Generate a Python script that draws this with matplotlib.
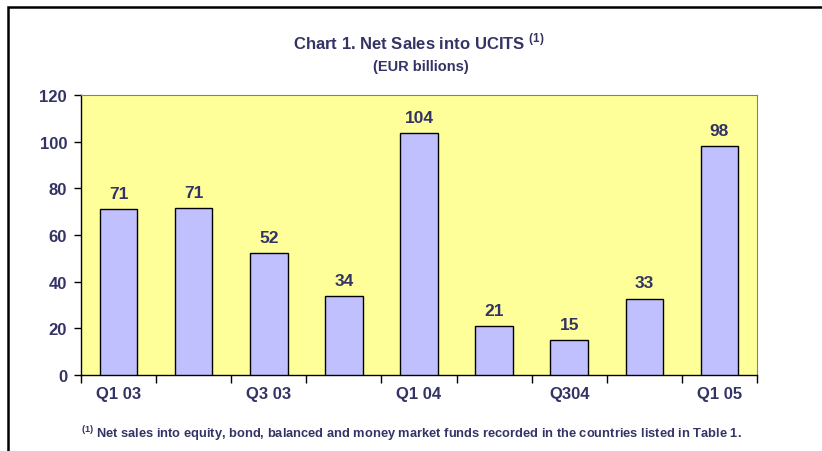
import matplotlib
matplotlib.use("Agg")
import matplotlib.pyplot as plt
from matplotlib.patches import Rectangle

quarters = ["Q1 03", "Q2 03", "Q3 03", "Q4 03", "Q1 04", "Q2 04", "Q304", "Q4 04", "Q1 05"]
net_sales = [71.2, 71.4, 52.3, 33.9, 103.7, 21.0, 15.0, 32.7, 98.0]
shown_labels = ["Q1 03", "", "Q3 03", "", "Q1 04", "", "Q304", "", "Q1 05"]
y_ticks = [0, 20, 40, 60, 80, 100, 120]

navy = "#333366"
plt.rcParams["font.family"] = ["Liberation Sans", "DejaVu Sans"]
plt.rcParams["font.weight"] = "bold"
plt.rcParams["mathtext.fontset"] = "custom"
plt.rcParams["mathtext.bf"] = "Liberation Sans:bold"
plt.rcParams["mathtext.rm"] = "Liberation Sans:bold"

fig = plt.figure(figsize=(8.22, 4.52), dpi=100)
ax = fig.add_axes([81 / 822, 1 - 376 / 452, 676 / 822, 280 / 452])
ax.set_facecolor("#FFFF99")

x = range(len(quarters))
ax.bar(x, net_sales, width=0.5, color="#C0C0FF", edgecolor="black", linewidth=1.0, zorder=3)
for i, v in enumerate(net_sales):
    ax.annotate(f"{round(v)}", (i, v), xytext=(0, 6), textcoords="offset points",
                ha="center", va="bottom", fontsize=12.5, fontweight="bold", color=navy)

ax.set_xlim(-0.5, len(quarters) - 0.5)
ax.set_ylim(0, 120)
ax.set_yticks(y_ticks)
ax.set_xticks([i - 0.5 for i in range(len(quarters) + 1)])
ax.set_xticklabels([])
ax.set_xticks(list(x), minor=True)
ax.set_xticklabels(shown_labels, minor=True)
ax.tick_params(axis="x", which="major", direction="out", length=6, width=1, color="black")
ax.tick_params(axis="x", which="minor", length=0, pad=8, labelsize=12, labelcolor=navy)
ax.tick_params(axis="y", direction="out", length=5, width=1, labelsize=12, labelcolor=navy, pad=5)
for lbl in ax.get_xticklabels(minor=True) + ax.get_yticklabels():
    lbl.set_fontweight("bold")

for side in ["left", "bottom"]:
    ax.spines[side].set_color("black")
    ax.spines[side].set_linewidth(1.0)
for side in ["top", "right"]:
    ax.spines[side].set_color("#808080")
    ax.spines[side].set_linewidth(0.8)

fig.text(419 / 822, 1 - 42 / 452, r"Chart 1. Net Sales into UCITS $^{\mathbf{(1)}}$",
         ha="center", va="center", fontsize=12, fontweight="bold", color=navy)
fig.text(421 / 822, 1 - 67 / 452, "(EUR billions)",
         ha="center", va="center", fontsize=10.5, fontweight="bold", color=navy)
fig.text(411 / 822, 1 - 434 / 452,
         r"$^{\mathbf{(1)}}$ Net sales into equity, bond, balanced and money market funds recorded in the countries listed in Table 1.",
         ha="center", va="center", fontsize=9.3, fontweight="bold", color=navy)

# outer frame, cut off on the right and bottom like the source
fig.patches.append(Rectangle((8 / 822, -0.1), 1.2, 1 - 8 / 452 + 0.1, transform=fig.transFigure,
                             fill=False, edgecolor="black", linewidth=1.8))

fig.savefig("out.png", dpi=100)
